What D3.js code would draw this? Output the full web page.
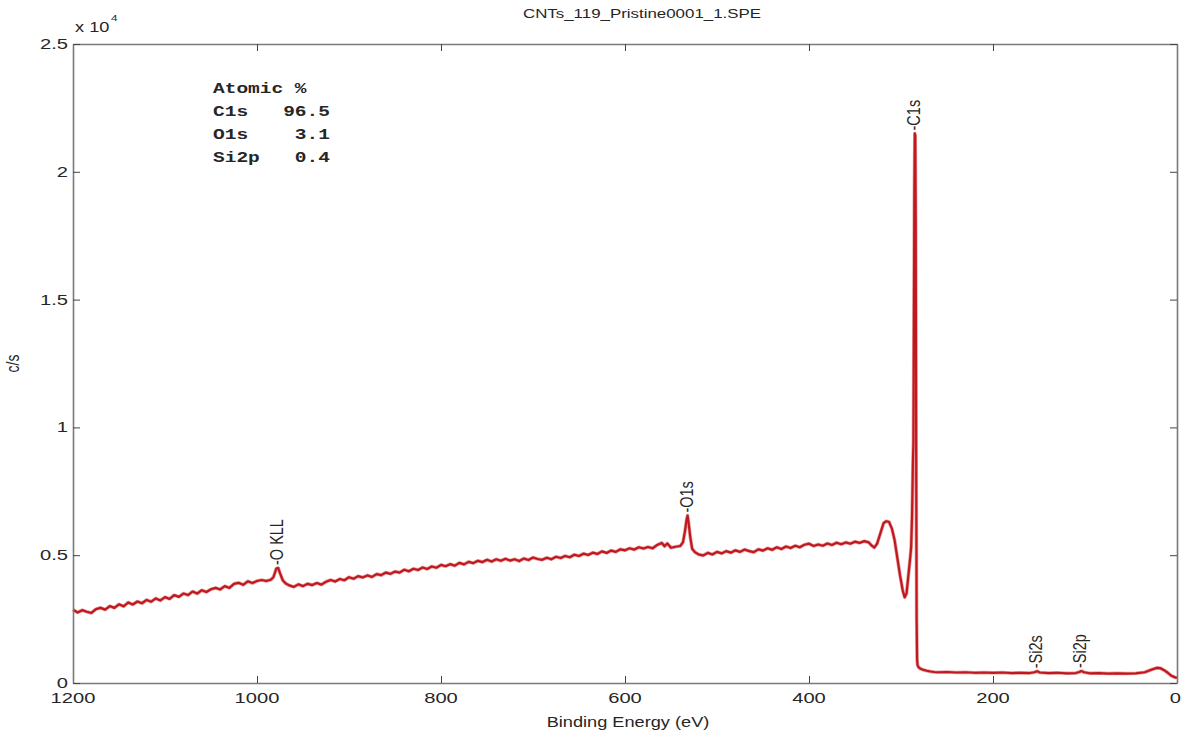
<!DOCTYPE html>
<html><head><meta charset="utf-8">
<script src="https://cdn.jsdelivr.net/npm/d3@7/dist/d3.min.js"></script>
<style>
html,body{margin:0;padding:0;background:#fff;}
svg{display:block;}
text{font-family:"Liberation Sans",Arial,Helvetica,sans-serif;fill:#262626;}
.mono{font-family:"Liberation Mono","Courier New",monospace;font-weight:bold;white-space:pre;}
</style></head>
<body>
<svg id="chart" width="1181" height="735"></svg>
<script>
// ---- data ----
const title = "CNTs_119_Pristine0001_1.SPE";
const xLabel = "Binding Energy (eV)";
const yLabel = "c/s";
const xTicks = [1200, 1000, 800, 600, 400, 200, 0];
const yTicks = [0, 5000, 10000, 15000, 20000, 25000];
const yTickLabels = ["0", "0.5", "1", "1.5", "2", "2.5"];

const energy = [
1200,1195,1190,1185,1180,1175,1170,1165,1160,1155,1150,1145,1140,1135,1130,1125,1120,1115,1110,1105,
1100,1095,1090,1085,1080,1075,1070,1065,1060,1055,1050,1045,1040,1035,1030,1025,1020,1015,1010,1005,
1000,995,990,985,982,979,977,975,972,969,965,960,955,950,945,940,935,930,925,920,
915,910,905,900,895,890,885,880,875,870,865,860,855,850,845,840,835,830,825,820,
815,810,805,800,795,790,785,780,775,770,765,760,755,750,745,740,735,730,725,720,
715,710,705,700,695,690,685,680,675,670,665,660,655,650,645,640,635,630,625,620,
615,610,605,600,595,590,585,580,575,570,565,560,557,554,550,545,540,537,535,533,
532,531,529,527,524,520,515,510,505,500,495,490,485,480,475,470,465,460,455,450,
445,440,435,430,425,420,415,410,405,400,395,390,385,380,375,370,365,360,355,350,
345,340,335,332,329,326,322,319,316,313,310,307,304,301,298,296,294,292,290,289,
288,287,286.5,286,285.5,285,284.5,284,283.5,283,282.5,282,281,279,276,272,268,264,
260,250,240,230,220,210,200,190,180,170,160,155,152,149,140,130,120,110,106,104,
101,95,85,75,65,55,45,35,28,22,18,14,10,6,2,0];

const counts = [
2870,2760,2850,2790,2740,2890,2940,2870,3010,2940,3080,3000,3150,3070,3190,3120,3250,3180,3310,3230,
3360,3290,3440,3370,3500,3440,3580,3500,3630,3560,3670,3720,3660,3790,3720,3880,3920,3840,3980,3910,
3990,4030,3990,4040,4150,4480,4500,4300,4020,3900,3820,3760,3860,3790,3880,3830,3910,3850,3960,4030,
3970,4070,4020,4140,4080,4180,4130,4210,4150,4260,4220,4320,4270,4360,4320,4430,4370,4470,4420,4520,
4460,4560,4510,4620,4570,4650,4590,4700,4640,4740,4690,4780,4730,4820,4750,4840,4780,4860,4790,4840,
4770,4870,4810,4910,4850,4820,4900,4840,4940,4890,4970,4920,5020,4970,5060,5010,5100,5050,5150,5090,
5180,5130,5230,5190,5270,5220,5310,5260,5320,5270,5400,5480,5350,5460,5290,5330,5360,5500,5900,6400,
6550,6300,5700,5250,5120,5030,4990,5090,5030,5130,5070,5160,5100,5190,5130,5220,5160,5120,5230,5180,
5270,5210,5310,5240,5340,5280,5370,5310,5410,5450,5360,5420,5370,5460,5400,5490,5430,5500,5450,5530,
5480,5550,5500,5380,5300,5450,5900,6250,6330,6300,6050,5600,4900,4200,3600,3350,3500,4200,4900,5300,
6500,8700,9400,14000,19000,21500,21400,18000,9000,2500,900,700,620,560,520,480,450,430,
420,430,410,420,400,410,400,410,390,400,390,420,460,410,390,400,380,390,430,470,
420,380,390,370,380,370,380,420,520,590,580,500,400,280,220,200];

const peakNames = ["O KLL", "O1s", "C1s", "Si2s", "Si2p"];
const peakEnergy = [977, 532, 285, 152, 104];
const peakCount = [4500, 6550, 21500, 460, 470];

const legendLines = ["Atomic %", "C1s   96.5", "O1s    3.1", "Si2p   0.4"];

// ---- layout ----
const svg = d3.select("#chart");
const L = 73, R = 1177, T = 44, B = 683;
const SX = 1.3; // horizontal glyph stretch seen in the reference
const fs = 15.5;

const x = d3.scaleLinear().domain([1200, 0]).range([L, R]);
const y = d3.scaleLinear().domain([0, 25000]).range([B, T]);

const axisColor = "#7a7a7a";

// curve
const data = energy.map((e, i) => [e, counts[i]]);
const line = d3.line().x(d => x(d[0])).y(d => y(d[1]));
svg.append("path").datum(data).attr("d", line)
  .attr("fill", "none").attr("stroke", "#e8a0a0").attr("stroke-width", 3.6)
  .attr("stroke-linejoin", "round");
svg.append("path").datum(data).attr("d", line)
  .attr("fill", "none").attr("stroke", "#c0181f").attr("stroke-width", 2.2)
  .attr("stroke-linejoin", "round");

// axes box with inward ticks on all sides
const tl = 7;
const gAx = svg.append("g");
gAx.append("g").attr("transform", `translate(0,${B})`)
  .call(d3.axisBottom(x).tickValues(xTicks).tickSize(-tl).tickSizeOuter(0).tickFormat(""));
gAx.append("g").attr("transform", `translate(0,${T})`)
  .call(d3.axisTop(x).tickValues(xTicks).tickSize(-tl).tickSizeOuter(0).tickFormat(""));
gAx.append("g").attr("transform", `translate(${L},0)`)
  .call(d3.axisLeft(y).tickValues(yTicks).tickSize(-tl).tickSizeOuter(0).tickFormat(""));
gAx.append("g").attr("transform", `translate(${R},0)`)
  .call(d3.axisRight(y).tickValues(yTicks).tickSize(-tl).tickSizeOuter(0).tickFormat(""));
gAx.selectAll(".domain").attr("stroke", axisColor).attr("stroke-width", 1.6);
gAx.selectAll(".tick line").attr("stroke", "#444").attr("stroke-width", 1);

function stext(g, str, px, py, anchor, size, rot) {
  return g.append("text")
    .attr("transform", `translate(${px},${py}) scale(${SX},1)` + (rot ? ` rotate(${rot})` : ""))
    .attr("text-anchor", anchor).attr("font-size", size).text(str);
}

// x tick labels (last one kept inside the picture)
xTicks.forEach((v, i) => {
  const last = i === xTicks.length - 1;
  stext(svg, String(v), last ? 1181 : x(v), B + 20, last ? "end" : "middle", fs);
});
// y tick labels
yTicks.forEach((v, i) => stext(svg, yTickLabels[i], L - 5, y(v) + 5, "end", fs));

// exponent
stext(svg, "x 10", L + 2, 32, "start", 14);
stext(svg, "4", L + 38, 21, "start", 9);

// title and axis labels
stext(svg, title, 642, 18, "middle", 13);
stext(svg, xLabel, (L + R) / 2 + 3, 727, "middle", 14);
stext(svg, yLabel, 19, (T + B) / 2, "middle", 14, -90);

// peak labels
peakNames.forEach((n, i) => {
  stext(svg, "-" + n, x(peakEnergy[i]) + 5, y(peakCount[i]) - 3, "start", 14.5, -90);
});

// atomic % box
const lg = svg.append("g");
legendLines.forEach((s, i) => {
  lg.append("text").attr("class", "mono")
    .attr("transform", `translate(213,${93 + i * 23}) scale(${SX},1)`)
    .attr("font-size", 15).attr("xml:space", "preserve").text(s);
});
</script>
</body></html>
